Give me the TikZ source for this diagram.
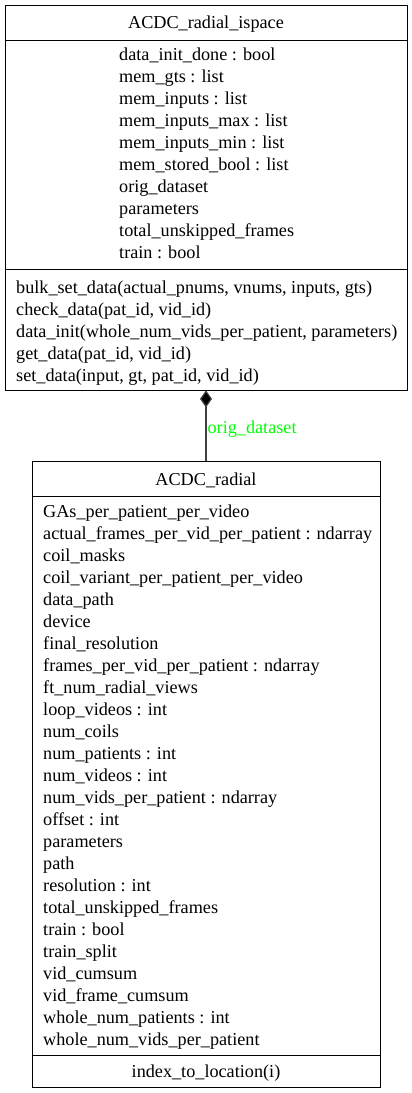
\documentclass[tikz,border=0pt]{standalone}
\usepackage{fontspec}
\setmainfont{Liberation Serif}
\usetikzlibrary{arrows.meta}
\definecolor{LabelClr}{rgb}{0,1,0}
\definecolor{EdgeClr}{rgb}{0.25,0.25,0.25}

\begin{document}
\begin{tikzpicture}[x=1pt,y=-1pt,
  txt/.style={inner sep=0pt,font=\fontsize{18.2}{22}\selectfont},
  classbox/.style={draw=black,line width=0.8pt,inner sep=0pt},
  sepline/.style={draw=black,line width=0.8pt},
  compo/.style={draw=EdgeClr,line width=1.2pt,
    {Diamond[length=17pt,width=12pt,fill=black]}-}]
\useasboundingbox (0,0) rectangle (412,1093);

\node[classbox,minimum width=402pt,minimum height=385pt] (ispacebox) at (206,197.5) {};
\draw[sepline] (ispacebox.west |- 0,40) -- (ispacebox.east |- 0,40);
\draw[sepline] (ispacebox.west |- 0,269) -- (ispacebox.east |- 0,269);
\node[txt,anchor=base] (ispace) at (206,28) {ACDC\_radial\_ispace};
\foreach \t [count=\i] in {data\_init\_done : bool,mem\_gts : list,mem\_inputs : list,
  mem\_inputs\_max : list,mem\_inputs\_min : list,mem\_stored\_bool : list,
  orig\_dataset,parameters,total\_unskipped\_frames,train : bool}
  \node[txt,anchor=base west] (ia\i) at (119,{60+22*(\i-1)}) {\t};
\foreach \t [count=\i] in {{bulk\_set\_data(actual\_pnums, vnums, inputs, gts)},
  {check\_data(pat\_id, vid\_id)},
  {data\_init(whole\_num\_vids\_per\_patient, parameters)},
  {get\_data(pat\_id, vid\_id)},
  {set\_data(input, gt, pat\_id, vid\_id)}}
  \node[txt,anchor=base west] (im\i) at (16,{293+22*(\i-1)}) {\t};

\node[classbox,minimum width=348pt,minimum height=626pt] (radialbox) at (206,774) {};
\draw[sepline] (radialbox.west |- 0,496) -- (radialbox.east |- 0,496);
\draw[sepline] (radialbox.west |- 0,1055) -- (radialbox.east |- 0,1055);
\node[txt,anchor=base] (radial) at (206,485) {ACDC\_radial};
\foreach \t [count=\i] in {GAs\_per\_patient\_per\_video,
  actual\_frames\_per\_vid\_per\_patient : ndarray,coil\_masks,
  coil\_variant\_per\_patient\_per\_video,data\_path,device,final\_resolution,
  frames\_per\_vid\_per\_patient : ndarray,ft\_num\_radial\_views,
  loop\_videos : int,num\_coils,num\_patients : int,num\_videos : int,
  num\_vids\_per\_patient : ndarray,offset : int,parameters,path,
  resolution : int,total\_unskipped\_frames,train : bool,train\_split,
  vid\_cumsum,vid\_frame\_cumsum,whole\_num\_patients : int,
  whole\_num\_vids\_per\_patient}
  \node[txt,anchor=base west] (ra\i) at (43,{517+22*(\i-1)}) {\t};
\node[txt,anchor=base] (rm1) at (206,1077) {index\_to\_location(i)};

\draw[compo] (ispacebox.south) -- node[txt,pos=0.5,anchor=base west,text=LabelClr,xshift=1pt,yshift=-7.5pt] (origlbl) {orig\_dataset} (radialbox.north);
\end{tikzpicture}
\end{document}
